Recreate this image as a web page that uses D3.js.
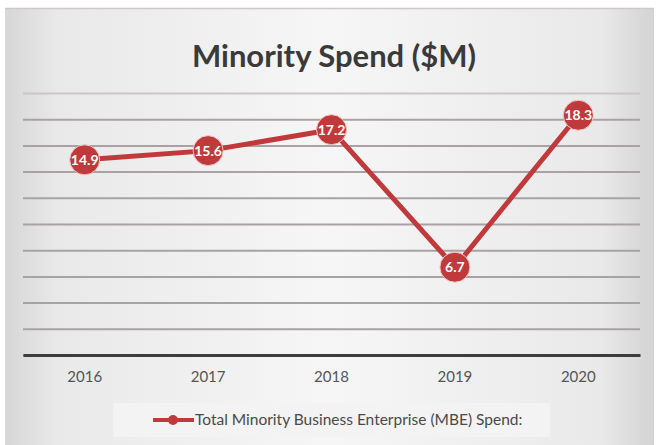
<html lang='en'>
    <head>
        <title>Minority Spend</title>
        <script src="https://d3js.org/d3.v7.min.js" charset="utf-8"></script>
        <style>
        body{
          margin: 0;
          background: #ffffff;
          font-family: "Lato", "Open Sans", sans-serif;
        }
        </style>
    </head>
    <body>
        <script>
            // data
            var years = ["2016", "2017", "2018", "2019", "2020"]
            var spend = [14.9, 15.6, 17.2, 6.7, 18.3]
            var yTicks = [0, 2, 4, 6, 8, 10, 12, 14, 16, 18, 20]
            var seriesName = "Total Minority Business Enterprise (MBE) Spend:"

            var width = 659
            var height = 445
            var red = "#c0393b"

            var svg = d3.select("body")
                        .append("svg")
                        .attr("width", width)
                        .attr("height", height);

            // background gradient of the chart frame
            var defs = svg.append("defs")
            var grad = defs.append("linearGradient")
                        .attr("id", "bg")
                        .attr("x1", "0%").attr("x2", "100%")
                        .attr("y1", "0%").attr("y2", "0%");
            grad.append("stop").attr("offset", "0%").attr("stop-color", "#d6d6d6");
            grad.append("stop").attr("offset", "8%").attr("stop-color", "#e9e9e9");
            grad.append("stop").attr("offset", "50%").attr("stop-color", "#f6f6f6");
            grad.append("stop").attr("offset", "92%").attr("stop-color", "#e9e9e9");
            grad.append("stop").attr("offset", "100%").attr("stop-color", "#d3d3d3");

            svg.append("rect")
               .attr("x", 5).attr("y", 8)
               .attr("width", 649).attr("height", 437)
               .attr("fill", "url(#bg)");
            svg.append("line")
               .attr("x1", 5).attr("x2", 654)
               .attr("y1", 8.5).attr("y2", 8.5)
               .attr("stroke", "#cfc8c8").attr("stroke-width", 1.5);

            //scales
            var x = d3.scaleBand()
                      .domain(years)
                      .range([23, 640]);
            var y = d3.scaleLinear()
                      .domain([0, 20])
                      .range([355, 93]);

            // gridlines
            var grid = svg.append("g")
                          .attr("transform", "translate(23,0)")
                          .call(d3.axisLeft(y)
                                  .tickValues(yTicks)
                                  .tickSize(-617)
                                  .tickFormat(""));
            grid.select(".domain").remove();
            grid.selectAll(".tick line")
                .attr("stroke", function(d) { return d == 20 ? "#cdc6c6" : "#aaa2a2"; })
                .attr("stroke-width", 2);

            // x axis
            var xAxis = svg.append("g")
                           .attr("transform", "translate(0," + y(0) + ")")
                           .call(d3.axisBottom(x).tickSize(0).tickPadding(16));
            xAxis.select(".domain")
                 .attr("stroke", "#3d3d3d")
                 .attr("stroke-width", 3);
            xAxis.selectAll(".tick text")
                 .attr("fill", "#555555")
                 .style("font-family", "Lato, sans-serif")
                 .style("font-size", "15px");

            // title
            svg.append("text")
               .attr("x", 334)
               .attr("y", 67)
               .attr("text-anchor", "middle")
               .attr("fill", "#3a3a3a")
               .attr("font-weight", "bold")
               .style("font-size", "31px")
               .text("Minority Spend ($M)");

            // line and markers
            var cx = function(d, i) { return x(years[i]) + x.bandwidth() / 2; }
            var line = d3.line()
                         .x(cx)
                         .y(function(d) { return y(d); });

            svg.append("path")
               .datum(spend)
               .attr("fill", "none")
               .attr("stroke", red)
               .attr("stroke-width", 5)
               .attr("d", line);

            svg.append("g")
               .selectAll("circle")
               .data(spend)
               .enter()
               .append("circle")
               .attr("cx", cx)
               .attr("cy", function(d) { return y(d); })
               .attr("r", 15)
               .attr("fill", red)
               .attr("stroke", "#f2c8c8")
               .attr("stroke-width", 1);

            svg.append("g")
               .selectAll("text")
               .data(spend)
               .enter()
               .append("text")
               .attr("x", cx)
               .attr("y", function(d) { return y(d) + 5; })
               .attr("text-anchor", "middle")
               .attr("fill", "#ffffff")
               .attr("font-weight", "bold")
               .style("font-size", "14px")
               .text(function(d) { return d.toFixed(1); });

            // legend
            var lg = svg.append("g");
            lg.append("rect")
              .attr("x", 113).attr("y", 403)
              .attr("width", 437).attr("height", 34)
              .attr("fill", "#f3f3f3");
            lg.append("line")
              .attr("x1", 153).attr("x2", 194)
              .attr("y1", 420).attr("y2", 420)
              .attr("stroke", red).attr("stroke-width", 4);
            lg.append("circle")
              .attr("cx", 173).attr("cy", 420).attr("r", 5)
              .attr("fill", red);
            lg.append("text")
              .attr("x", 195).attr("y", 425)
              .attr("fill", "#4a4a4a")
              .style("font-size", "15.5px")
              .text(seriesName);
        </script>
    </body>
</html>
